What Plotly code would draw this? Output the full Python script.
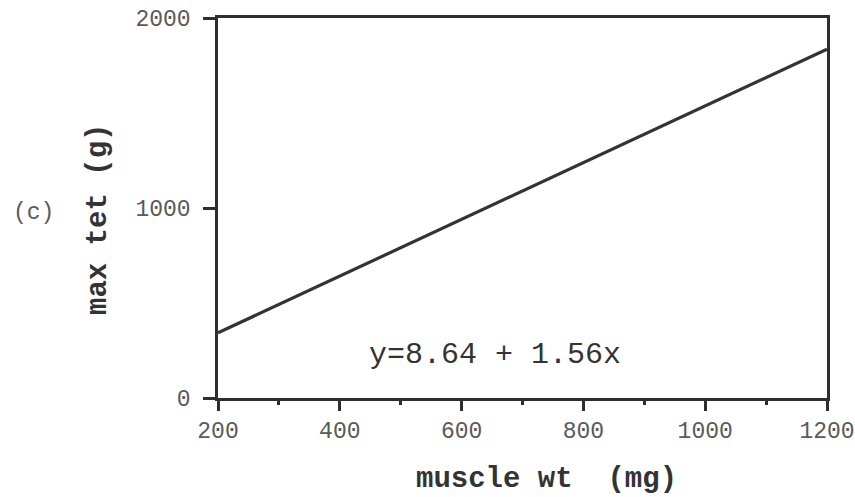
import plotly.graph_objects as go

# Data
muscle_wt = [200, 1200]
max_tet = [343, 1836]
x_ticks = [200, 400, 600, 800, 1000, 1200]
y_ticks = [0, 1000, 2000]
equation = "y=8.64 + 1.56x"
panel_label = "(c)"
x_title = "muscle wt  (mg)"
y_title = "max tet (g)"

AX = "#2e2e2e"
TXT = "#5a5a5a"
MONO = "Courier New, Nimbus Mono PS, FreeMono, Liberation Mono, monospace"

L, R, T, B = 218, 28, 18, 99
W, H = 855, 497

fig = go.Figure()
fig.add_trace(go.Scatter(x=muscle_wt, y=max_tet, mode="lines",
                         line=dict(color="#333333", width=3.2),
                         showlegend=False, hoverinfo="skip"))

fig.update_layout(
    width=W, height=H,
    margin=dict(l=L, r=R, t=T, b=B, autoexpand=False),
    paper_bgcolor="white", plot_bgcolor="white",
    xaxis=dict(range=[200, 1200], tickmode="array", tickvals=x_ticks,
               ticktext=[str(v) for v in x_ticks], automargin=False,
               showgrid=False, zeroline=False,
               showline=True, linecolor=AX, linewidth=2.5, mirror=True,
               ticks="outside", ticklen=10, tickwidth=2.5, tickcolor=AX,
               ticklabelstandoff=0,
               minor=dict(dtick=100, tick0=200, ticks="outside", ticklen=4,
                          tickwidth=2.5, tickcolor=AX, showgrid=False),
               tickfont=dict(family=MONO, size=23, color=TXT)),
    yaxis=dict(range=[0, 2000], tickmode="array", tickvals=y_ticks,
               ticktext=[str(v) for v in y_ticks], automargin=False,
               showgrid=False, zeroline=False,
               showline=True, linecolor=AX, linewidth=2.5, mirror=True,
               ticks="outside", ticklen=12, tickwidth=2.5, tickcolor=AX,
               ticklabelstandoff=8,
               tickfont=dict(family=MONO, size=23, color=TXT)),
)


def px_to_paper(px, py):
    pw = W - L - R
    ph = H - T - B
    return (px - L) / pw, (H - B - py) / ph


ex, ey = px_to_paper(495, 355)
fig.add_annotation(text=equation, x=ex, y=ey, xref="paper", yref="paper",
                   showarrow=False, xanchor="center", yanchor="middle",
                   font=dict(family=MONO, size=30, color="#333333"))
tx, ty = px_to_paper(546, 479)
fig.add_annotation(text="<b>" + x_title.replace(" ", "&nbsp;") + "</b>", x=tx, y=ty,
                   xref="paper", yref="paper", showarrow=False,
                   font=dict(family=MONO, size=29, color="#333333"),
                   xanchor="center", yanchor="middle")
yx, yy = px_to_paper(98, 220)
fig.add_annotation(text="<b>" + y_title.replace(" ", "&nbsp;") + "</b>", x=yx, y=yy,
                   xref="paper", yref="paper", showarrow=False, textangle=-90,
                   font=dict(family=MONO, size=29, color="#333333"),
                   xanchor="center", yanchor="middle")
cx, cy = px_to_paper(33, 213)
fig.add_annotation(text=panel_label, x=cx, y=cy, xref="paper", yref="paper",
                   showarrow=False, font=dict(family=MONO, size=23, color=TXT),
                   xanchor="center", yanchor="middle")

fig.write_html("out.html")
